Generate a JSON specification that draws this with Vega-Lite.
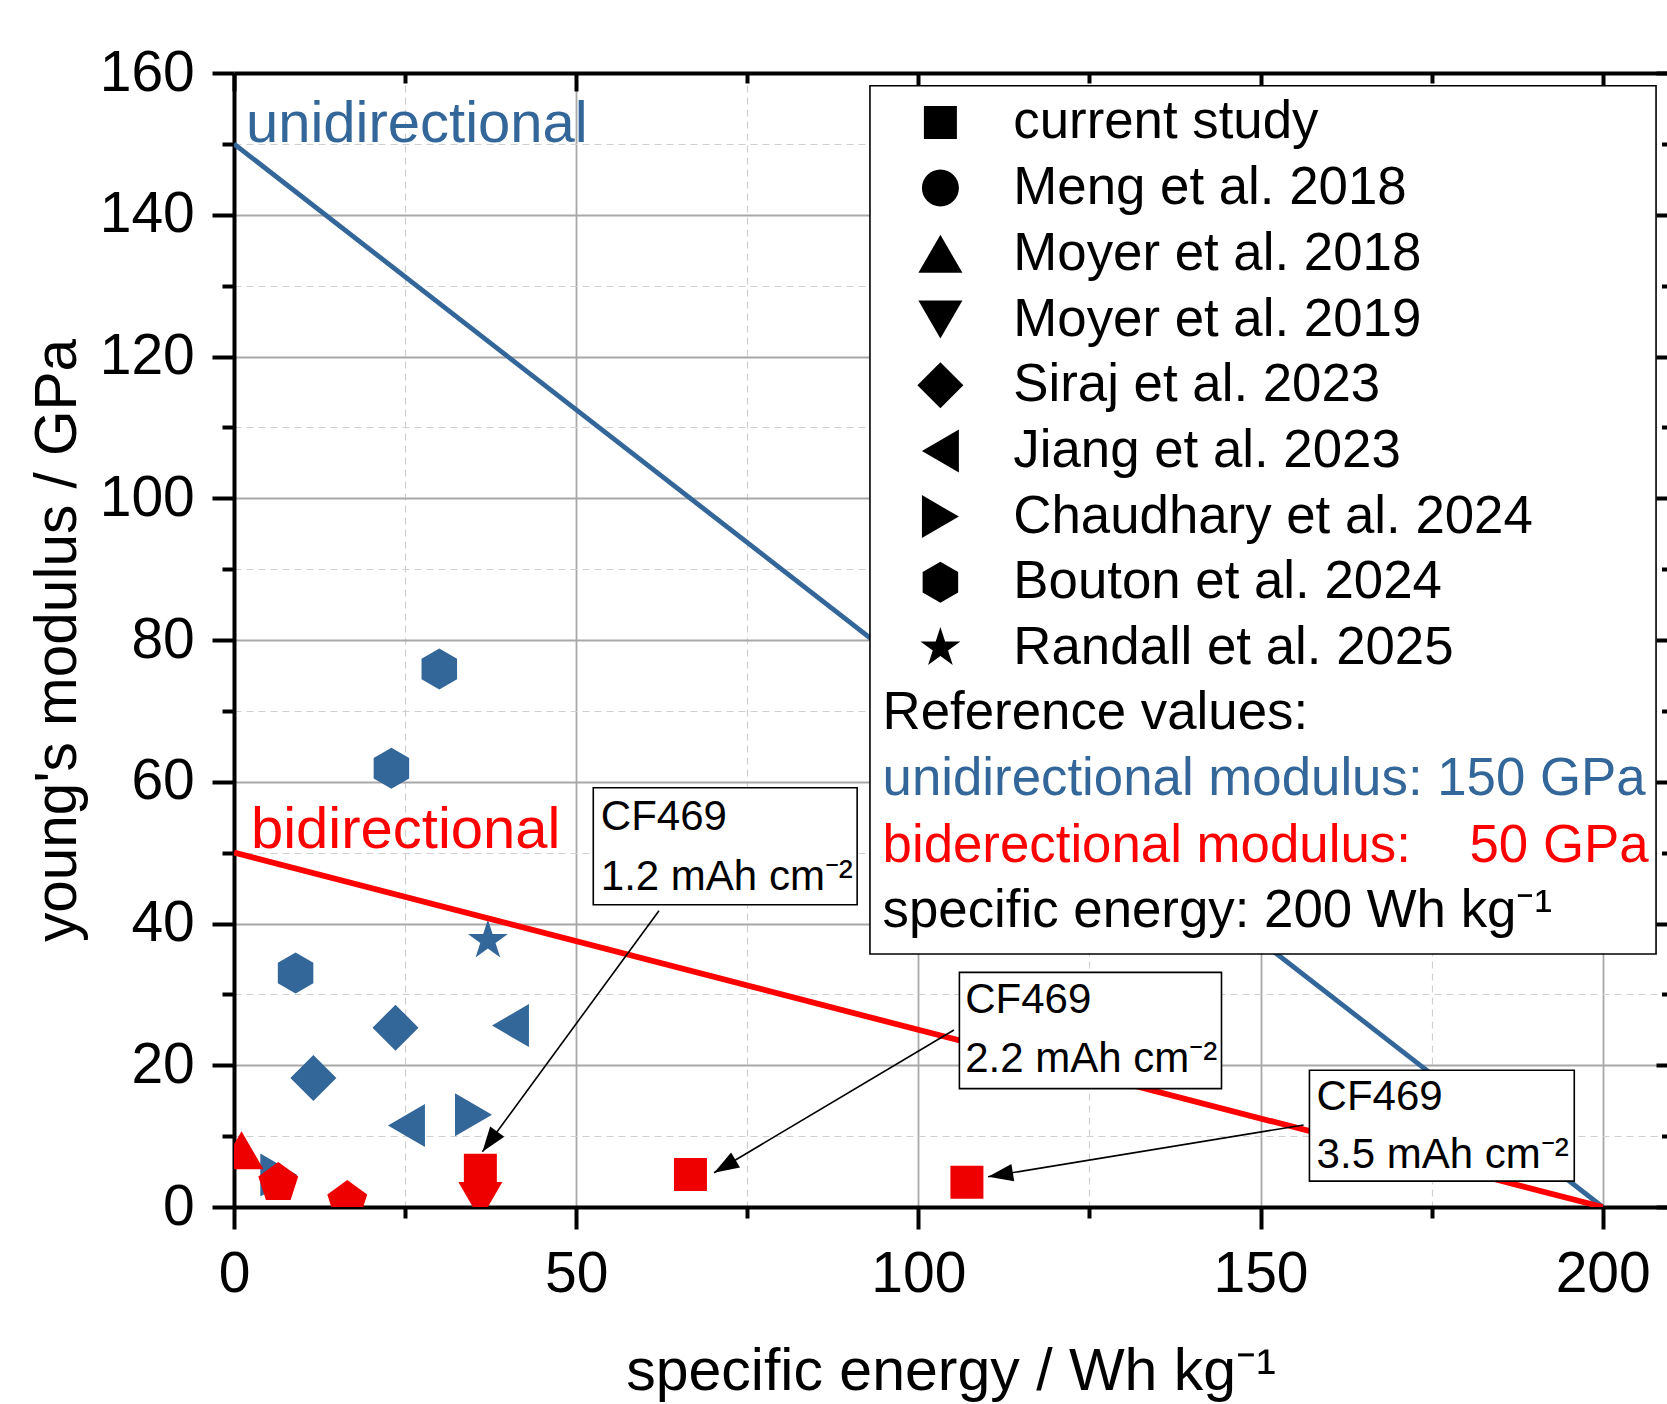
{
  "$schema": "https://vega.github.io/schema/vega-lite/v6.json",
  "autosize": {"type": "none"},
  "padding": {"left": 234, "top": 73, "right": 0, "bottom": 197},
  "width": 1433,
  "height": 1134,
  "background": "white",
  "config": {
    "view": {"stroke": null},
    "font": "Liberation Sans",
    "text": {"font": "Liberation Sans"}
  },
  "datasets": {
    "points": [
      {"study": "Bouton et al. 2024", "fiber": "unidirectional", "energy": 30.0, "modulus": 75.9},
      {"study": "Bouton et al. 2024", "fiber": "unidirectional", "energy": 23.0, "modulus": 61.9},
      {"study": "Bouton et al. 2024", "fiber": "unidirectional", "energy": 9.0, "modulus": 33.0},
      {"study": "Randall et al. 2025", "fiber": "unidirectional", "energy": 37.1, "modulus": 37.6},
      {"study": "Siraj et al. 2023", "fiber": "unidirectional", "energy": 23.6, "modulus": 25.3},
      {"study": "Siraj et al. 2023", "fiber": "unidirectional", "energy": 11.6, "modulus": 18.2},
      {"study": "Jiang et al. 2023", "fiber": "unidirectional", "energy": 40.4, "modulus": 25.6},
      {"study": "Jiang et al. 2023", "fiber": "unidirectional", "energy": 25.2, "modulus": 11.5},
      {"study": "Chaudhary et al. 2024", "fiber": "unidirectional", "energy": 35.0, "modulus": 13.0},
      {"study": "Chaudhary et al. 2024", "fiber": "unidirectional", "energy": 6.55, "modulus": 4.5},
      {"study": "current study", "fiber": "bidirectional", "energy": 36.0, "modulus": 5.2},
      {"study": "current study", "fiber": "bidirectional", "energy": 66.7, "modulus": 4.6},
      {"study": "current study", "fiber": "bidirectional", "energy": 107.1, "modulus": 3.5},
      {"study": "Moyer et al. 2018", "fiber": "bidirectional", "energy": 1.1, "modulus": 8.0},
      {"study": "Moyer et al. 2019", "fiber": "bidirectional", "energy": 36.0, "modulus": 0.85},
      {"study": "Meng et al. 2018", "fiber": "bidirectional", "energy": 6.47, "modulus": 3.39},
      {"study": "Meng et al. 2018", "fiber": "bidirectional", "energy": 16.55, "modulus": 0.85}
    ],
    "lines": [
      {"fiber": "unidirectional", "energy": 0, "modulus": 150},
      {"fiber": "unidirectional", "energy": 200, "modulus": 0},
      {"fiber": "bidirectional", "energy": 0, "modulus": 50},
      {"fiber": "bidirectional", "energy": 200, "modulus": 0}
    ],
    "one": [{}]
  },
  "resolve": {"axis": {"x": "independent", "y": "independent"}},
  "layer": [
    {
      "data": {"name": "points"},
      "transform": [{"filter": "datum.study !== 'Meng et al. 2018'"}],
      "mark": {"type": "point", "filled": true, "size": 2116, "opacity": 1, "strokeWidth": 0, "clip": true},
      "encoding": {
        "x": {
          "field": "energy", "type": "quantitative",
          "scale": {"domain": [0, 209.4], "nice": false, "zero": false},
          "axis": {
            "orient": "bottom",
            "values": [0, 25, 50, 75, 100, 125, 150, 175, 200],
            "title": "specific energy / Wh kg\u207b\u00b9",
            "titleFont": "Liberation Sans", "titleFontSize": 59, "titleFontWeight": "normal", "titleColor": "black",
            "titlePadding": 40,
            "labelFont": "Liberation Sans", "labelFontSize": 57, "labelColor": "black", "labelPadding": 17,
            "labelFlush": false, "labelOverlap": false,
            "labelExpr": "datum.value % 50 === 0 ? datum.label : ''",
            "tickSize": {"condition": {"test": "datum.value % 50 === 0", "value": 22}, "value": 11},
            "tickColor": "black", "tickWidth": 4,
            "domainColor": "black", "domainWidth": 4,
            "grid": true,
            "gridColor": {"condition": {"test": "datum.value % 50 === 0", "value": "#a8a8a8"}, "value": "#d0d0d0"},
            "gridDash": {"condition": {"test": "datum.value % 50 === 0", "value": []}, "value": [7, 5]},
            "gridWidth": {"condition": {"test": "datum.value % 50 === 0", "value": 1.8}, "value": 1.2}
          }
        },
        "y": {
          "field": "modulus", "type": "quantitative",
          "scale": {"domain": [0, 160], "nice": false, "zero": false},
          "axis": {
            "orient": "left",
            "values": [0, 10, 20, 30, 40, 50, 60, 70, 80, 90, 100, 110, 120, 130, 140, 150, 160],
            "title": "young's modulus / GPa",
            "titleFont": "Liberation Sans", "titleFontSize": 58.5, "titleFontWeight": "normal", "titleColor": "black",
            "titlePadding": 12,
            "labelFont": "Liberation Sans", "labelFontSize": 57, "labelColor": "black", "labelPadding": 17.7,
            "labelFlush": false, "labelOverlap": false,
            "labelExpr": "datum.value % 20 === 0 ? datum.label : ''",
            "tickSize": {"condition": {"test": "datum.value % 20 === 0", "value": 22}, "value": 12},
            "tickColor": "black", "tickWidth": 4,
            "domainColor": "black", "domainWidth": 4,
            "grid": true,
            "gridColor": {"condition": {"test": "datum.value % 20 === 0", "value": "#a8a8a8"}, "value": "#d0d0d0"},
            "gridDash": {"condition": {"test": "datum.value % 20 === 0", "value": []}, "value": [7, 5]},
            "gridWidth": {"condition": {"test": "datum.value % 20 === 0", "value": 1.8}, "value": 1.2}
          }
        },
        "color": {
          "field": "fiber", "type": "nominal",
          "scale": {"domain": ["unidirectional", "bidirectional"], "range": ["#336699", "#ee0000"]},
          "legend": null
        },
        "shape": {
          "field": "study", "type": "nominal",
          "scale": {
            "domain": ["current study", "Meng et al. 2018", "Moyer et al. 2018", "Moyer et al. 2019", "Siraj et al. 2023", "Jiang et al. 2023", "Chaudhary et al. 2024", "Bouton et al. 2024", "Randall et al. 2025"],
            "range": [
              "M-0.717,-0.717L0.717,-0.717L0.717,0.717L-0.717,0.717Z",
              "M0.804,0A0.804,0.804,0,1,1,-0.804,0A0.804,0.804,0,1,1,0.804,0Z",
              "M0,-0.826L0.957,0.826L-0.957,0.826Z",
              "M0,0.826L0.957,-0.826L-0.957,-0.826Z",
              "M0,-1L1,0L0,1L-1,0Z",
              "M-0.804,0L0.804,-0.935L0.804,0.935Z",
              "M0.804,0L-0.804,-0.935L-0.804,0.935Z",
              "M0,-0.891L0.772,-0.446L0.772,0.446L0,0.891L-0.772,0.446L-0.772,-0.446Z",
              "M0,-0.913L0.205,-0.282L0.868,-0.282L0.332,0.108L0.537,0.739L0,0.349L-0.537,0.739L-0.332,0.108L-0.868,-0.282L-0.205,-0.282Z"
            ]
          },
          "legend": {
            "orient": "none", "legendX": 680, "legendY": 23,
            "title": null, "padding": 0,
            "symbolSize": 2116, "symbolStrokeWidth": 0, "symbolFillColor": "black",
            "labelFont": "Liberation Sans", "labelFontSize": 52.8, "labelColor": "black",
            "labelOffset": 46.5, "labelLimit": 2000, "rowPadding": 11.7,
            "encode": {"symbols": {"update": {"fill": {"value": "black"}, "stroke": {"value": "black"}, "strokeWidth": {"value": 0}, "opacity": {"value": 1}}}}
          }
        }
      }
    },
    {
      "data": {"name": "points"},
      "transform": [{"filter": "datum.study === 'Meng et al. 2018'"}],
      "mark": {"type": "point", "filled": true, "size": 2116, "opacity": 1, "strokeWidth": 0, "clip": true, "color": "#ee0000",
               "shape": "M0,-0.913L0.868,-0.282L0.537,0.739L-0.537,0.739L-0.868,-0.282Z"},
      "encoding": {
        "x": {
          "field": "energy", "type": "quantitative",
          "axis": {
            "orient": "top", "values": [0, 25, 50, 75, 100, 125, 150, 175, 200],
            "title": null, "labels": false, "grid": false,
            "tickSize": {"condition": {"test": "datum.value % 50 === 0", "value": -18}, "value": -10},
            "tickColor": "black", "tickWidth": 4, "domainColor": "black", "domainWidth": 4
          }
        },
        "y": {
          "field": "modulus", "type": "quantitative",
          "axis": {
            "orient": "right", "values": [0, 10, 20, 30, 40, 50, 60, 70, 80, 90, 100, 110, 120, 130, 140, 150, 160],
            "title": null, "labels": false, "grid": false, "domain": false,
            "tickSize": {"condition": {"test": "datum.value % 20 === 0", "value": -11}, "value": -5.5},
            "tickColor": "black", "tickWidth": 4
          }
        }
      }
    },
    {
      "data": {"name": "lines"},
      "transform": [{"filter": "datum.fiber === 'unidirectional'"}],
      "mark": {"type": "line", "color": "#336699", "strokeWidth": 4.8, "clip": true},
      "encoding": {
        "x": {"field": "energy", "type": "quantitative", "axis": null},
        "y": {"field": "modulus", "type": "quantitative", "axis": null}
      }
    },
    {
      "data": {"name": "lines"},
      "transform": [{"filter": "datum.fiber === 'bidirectional'"}],
      "mark": {"type": "line", "color": "#ff0000", "strokeWidth": 5.8, "clip": true},
      "encoding": {
        "x": {"field": "energy", "type": "quantitative", "axis": null},
        "y": {"field": "modulus", "type": "quantitative", "axis": null}
      }
    },
    {
      "data": {"name": "one"},
      "mark": {"type": "text", "text": "unidirectional", "fontSize": 58, "color": "#336699", "align": "left", "baseline": "alphabetic"},
      "encoding": {
        "x": {"datum": 1.74, "type": "quantitative", "axis": null},
        "y": {"datum": 150.2, "type": "quantitative", "axis": null}
      }
    },
    {
      "data": {"name": "one"},
      "mark": {"type": "text", "text": "bidirectional", "fontSize": 58, "color": "#ff0000", "align": "left", "baseline": "alphabetic"},
      "encoding": {
        "x": {"datum": 2.48, "type": "quantitative", "axis": null},
        "y": {"datum": 50.6, "type": "quantitative", "axis": null}
      }
    },
    {
      "data": {"name": "one"},
      "mark": {"type": "rule", "color": "black", "strokeWidth": 1.6},
      "encoding": {
        "x": {"datum": 62.1, "type": "quantitative", "axis": null},
        "y": {"datum": 41.8, "type": "quantitative", "axis": null},
        "x2": {"datum": 36.3},
        "y2": {"datum": 7.8}
      }
    },
    {
      "data": {"name": "one"},
      "mark": {"type": "point", "filled": true, "opacity": 1, "color": "black", "size": 2500, "angle": 216.3, "strokeWidth": 0,
               "shape": "M0,0L0.35,1L-0.35,1Z"},
      "encoding": {
        "x": {"datum": 36.3, "type": "quantitative", "axis": null},
        "y": {"datum": 7.8, "type": "quantitative", "axis": null}
      }
    },
    {
      "data": {"name": "one"},
      "mark": {"type": "rule", "color": "black", "strokeWidth": 1.6},
      "encoding": {
        "x": {"datum": 105.2, "type": "quantitative", "axis": null},
        "y": {"datum": 24.97, "type": "quantitative", "axis": null},
        "x2": {"datum": 70.15},
        "y2": {"datum": 4.84}
      }
    },
    {
      "data": {"name": "one"},
      "mark": {"type": "point", "filled": true, "opacity": 1, "color": "black", "size": 2500, "angle": 239.3, "strokeWidth": 0,
               "shape": "M0,0L0.35,1L-0.35,1Z"},
      "encoding": {
        "x": {"datum": 70.15, "type": "quantitative", "axis": null},
        "y": {"datum": 4.84, "type": "quantitative", "axis": null}
      }
    },
    {
      "data": {"name": "one"},
      "mark": {"type": "rule", "color": "black", "strokeWidth": 1.6},
      "encoding": {
        "x": {"datum": 156.3, "type": "quantitative", "axis": null},
        "y": {"datum": 11.57, "type": "quantitative", "axis": null},
        "x2": {"datum": 110.2},
        "y2": {"datum": 4.28}
      }
    },
    {
      "data": {"name": "one"},
      "mark": {"type": "point", "filled": true, "opacity": 1, "color": "black", "size": 2500, "angle": 260.7, "strokeWidth": 0,
               "shape": "M0,0L0.35,1L-0.35,1Z"},
      "encoding": {
        "x": {"datum": 110.2, "type": "quantitative", "axis": null},
        "y": {"datum": 4.28, "type": "quantitative", "axis": null}
      }
    },
    {
      "data": {"name": "one"},
      "mark": {"type": "rect", "fill": "white", "stroke": "black", "strokeWidth": 1.6},
      "encoding": {
        "x": {"datum": 52.5, "type": "quantitative", "axis": null},
        "x2": {"datum": 91.06},
        "y": {"datum": 59.15, "type": "quantitative", "axis": null},
        "y2": {"datum": 42.65}
      }
    },
    {
      "data": {"name": "one"},
      "mark": {"type": "text", "text": ["CF469", "1.2 mAh cm\u207b\u00b2"], "fontSize": 42, "lineHeight": 60.5, "color": "black", "align": "left", "baseline": "top"},
      "encoding": {
        "x": {"datum": 53.6, "type": "quantitative", "axis": null},
        "y": {"datum": 57.9, "type": "quantitative", "axis": null}
      }
    },
    {
      "data": {"name": "one"},
      "mark": {"type": "rect", "fill": "white", "stroke": "black", "strokeWidth": 1.6},
      "encoding": {
        "x": {"datum": 106.0, "type": "quantitative", "axis": null},
        "x2": {"datum": 144.3},
        "y": {"datum": 33.1, "type": "quantitative", "axis": null},
        "y2": {"datum": 16.7}
      }
    },
    {
      "data": {"name": "one"},
      "mark": {"type": "text", "text": ["CF469", "2.2 mAh cm\u207b\u00b2"], "fontSize": 42, "lineHeight": 58.4, "color": "black", "align": "left", "baseline": "top"},
      "encoding": {
        "x": {"datum": 106.85, "type": "quantitative", "axis": null},
        "y": {"datum": 32.0, "type": "quantitative", "axis": null}
      }
    },
    {
      "data": {"name": "one"},
      "mark": {"type": "rect", "fill": "white", "stroke": "black", "strokeWidth": 1.6},
      "encoding": {
        "x": {"datum": 157.15, "type": "quantitative", "axis": null},
        "x2": {"datum": 195.85},
        "y": {"datum": 19.3, "type": "quantitative", "axis": null},
        "y2": {"datum": 3.65}
      }
    },
    {
      "data": {"name": "one"},
      "mark": {"type": "text", "text": ["CF469", "3.5 mAh cm\u207b\u00b2"], "fontSize": 42, "lineHeight": 58.4, "color": "black", "align": "left", "baseline": "top"},
      "encoding": {
        "x": {"datum": 158.2, "type": "quantitative", "axis": null},
        "y": {"datum": 18.4, "type": "quantitative", "axis": null}
      }
    },
    {
      "data": {"name": "one"},
      "mark": {"type": "rect", "fill": "white", "stroke": "black", "strokeWidth": 1.6},
      "encoding": {
        "x": {"datum": 92.93, "type": "quantitative", "axis": null},
        "x2": {"datum": 207.8},
        "y": {"datum": 158.2, "type": "quantitative", "axis": null},
        "y2": {"datum": 35.7}
      }
    },
    {
      "data": {"name": "one"},
      "mark": {"type": "text", "text": "Reference values:", "fontSize": 52.8, "color": "black", "align": "left", "baseline": "alphabetic"},
      "encoding": {
        "x": {"datum": 94.77, "type": "quantitative", "axis": null},
        "y": {"datum": 67.4, "type": "quantitative", "axis": null}
      }
    },
    {
      "data": {"name": "one"},
      "mark": {"type": "text", "text": "unidirectional modulus: 150 GPa", "fontSize": 52.8, "color": "#336699", "align": "left", "baseline": "alphabetic"},
      "encoding": {
        "x": {"datum": 94.77, "type": "quantitative", "axis": null},
        "y": {"datum": 58.1, "type": "quantitative", "axis": null}
      }
    },
    {
      "data": {"name": "one"},
      "mark": {"type": "text", "text": "biderectional modulus:\u00a0\u00a0\u00a0\u00a050 GPa", "fontSize": 52.8, "color": "#ff0000", "align": "left", "baseline": "alphabetic"},
      "encoding": {
        "x": {"datum": 94.77, "type": "quantitative", "axis": null},
        "y": {"datum": 48.65, "type": "quantitative", "axis": null}
      }
    },
    {
      "data": {"name": "one"},
      "mark": {"type": "text", "text": "specific energy: 200 Wh kg\u207b\u00b9", "fontSize": 52.8, "color": "black", "align": "left", "baseline": "alphabetic"},
      "encoding": {
        "x": {"datum": 94.77, "type": "quantitative", "axis": null},
        "y": {"datum": 39.5, "type": "quantitative", "axis": null}
      }
    }
  ]
}
